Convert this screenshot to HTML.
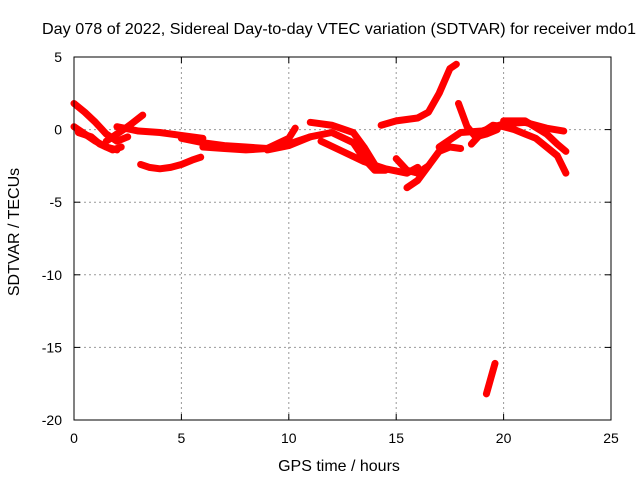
<!DOCTYPE html>
<html><head><meta charset="utf-8"><style>
body{margin:0;background:#fff}
svg{display:block;font-family:"Liberation Sans",sans-serif;font-size:14px}
.big{font-size:16px}
</style></head><body>
<svg id="chart" width="640" height="480">
<text class="big" x="339" y="34" text-anchor="middle" textLength="594" lengthAdjust="spacingAndGlyphs">Day 078 of 2022, Sidereal Day-to-day VTEC variation (SDTVAR) for receiver mdo1</text>
<text class="big" x="339" y="471" text-anchor="middle">GPS time / hours</text>
<text class="big" transform="translate(19,232) rotate(-90)" text-anchor="middle">SDTVAR / TECUs</text>
<g id="grid"></g><g id="series"></g>
<rect x="74" y="57" width="537" height="363" fill="none" stroke="#000"/>
</svg>
<script>
const xTicks=[0,5,10,15,20,25];
const yTicks=[5,0,-5,-10,-15,-20];
const trackHours=[
[0,0.5,1,1.5,2,2.5],[0,0.5,1,1.5,2],[0.2,0.8,1.2,1.8,2.2],[1.5,2,2.5,3.2],
[2,3,4,5,6],[3.1,3.5,4,4.5,5,5.5,5.9],[5,6,7,8,9,10,11],[6,7,8,9,10,10.3],
[9,10,11,12,13,13.5,14,14.5],[11,12,13,13.5,14],[11.5,12.5,13.5,14.5,15.5,16],
[14.3,15,16,16.5,17,17.5,17.8],[15.5,16,16.5,17,17.5,18],[15,15.5,16,16.5],
[17.9,18.3,18.7,19.2,19.7],[17,18,19,20,21,22,22.8],
[18.5,19,19.5,20,20.5,21,21.5,22,22.5,22.9],[19.2,19.6],[20,21,22,22.5,22.9]];
const trackValues=[
[1.8,1.2,0.5,-0.3,-0.8,-0.5],[0.2,-0.3,-0.8,-1.2,-1.4],[-0.2,-0.5,-1,-1.4,-1.2],[-0.8,-0.3,0.2,1.0],
[0.2,-0.1,-0.2,-0.4,-0.6],[-2.4,-2.6,-2.7,-2.6,-2.4,-2.1,-1.9],[-0.6,-0.9,-1.1,-1.2,-1.3,-1.0,-0.5],[-1.2,-1.3,-1.4,-1.3,-0.6,0.1],
[-1.4,-1.1,-0.5,-0.2,-0.9,-2.0,-2.8,-2.8],[0.5,0.3,-0.2,-1.2,-2.4],[-0.8,-1.5,-2.2,-2.7,-3,-2.6],
[0.3,0.6,0.8,1.2,2.5,4.2,4.5],[-4,-3.5,-2.5,-1.5,-1.2,-1.3],[-2,-2.8,-3,-2.5],
[1.8,0.2,-0.5,-0.3,0],[-1.2,-0.2,-0.1,0.4,0.5,0.1,-0.1],
[-1,-0.2,0.3,0.2,0,-0.3,-0.6,-1.2,-1.8,-3],[-18.2,-16.1],[0.6,0.6,-0.3,-1,-1.5]];
const NS="http://www.w3.org/2000/svg";
const X=h=>74+h*537/25, Y=v=>57+(5-v)*363/25;
const grid=document.getElementById('grid'), ser=document.getElementById('series');
function mk(tag,attrs,parent){const e=document.createElementNS(NS,tag);for(const k in attrs)e.setAttribute(k,attrs[k]);parent.appendChild(e);return e;}
xTicks.forEach(t=>{
 if(t>0&&t<25){const l=mk('line',{x1:X(t),x2:X(t),y1:57,y2:420,stroke:'#999','stroke-dasharray':'2,3'},grid);
 
 }
 mk('line',{x1:X(t),x2:X(t),y1:420,y2:414,stroke:'#000'},grid);
 mk('line',{x1:X(t),x2:X(t),y1:57,y2:63,stroke:'#000'},grid);
 const tx=mk('text',{x:X(t),y:443,'text-anchor':'middle'},grid);tx.textContent=t;
 
 
});
yTicks.forEach(t=>{
 if(t<5&&t>-20){const l=mk('line',{x1:74,x2:611,y1:Y(t),y2:Y(t),stroke:'#999','stroke-dasharray':'2,3'},grid);
 
 }
 mk('line',{x1:74,x2:80,y1:Y(t),y2:Y(t),stroke:'#000'},grid);
 mk('line',{x1:605,x2:611,y1:Y(t),y2:Y(t),stroke:'#000'},grid);
 const tx=mk('text',{x:62,y:Y(t)+5,'text-anchor':'end'},grid);tx.textContent=t;
 
 
});
trackHours.forEach((hs,i)=>{
 const pts=hs.map((h,j)=>X(h)+','+Y(trackValues[i][j])).join(' ');
 const p=mk('polyline',{points:pts,fill:'none',stroke:'#f00','stroke-width':7,'stroke-linejoin':'round','stroke-linecap':'round'},ser);
 
 
});
</script>
</body></html>
